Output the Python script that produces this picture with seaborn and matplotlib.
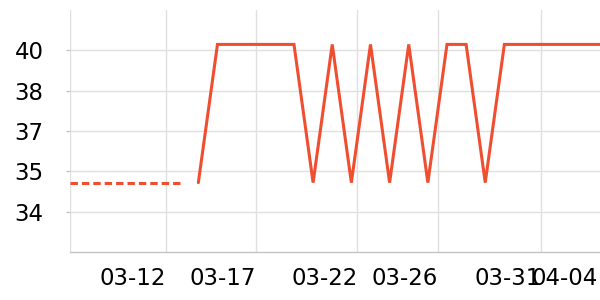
import matplotlib
matplotlib.use("Agg")
import matplotlib.pyplot as plt
import seaborn as sns
import pandas as pd

# ---- data ----
solid_x = list(range(22))
solid_y = [35.08, 40.22, 40.22, 40.22, 40.22, 40.22, 35.08, 40.22, 35.08, 40.22,
           35.08, 40.22, 35.08, 40.22, 40.22, 35.08, 40.22, 40.22, 40.22, 40.22,
           40.22, 40.22]
dashed_x = [-6.7, -0.95]
dashed_y = [35.08, 35.08]

x_tick_pos = [-6.71, -1.715, 2.99, 8.32, 12.51, 17.89]
x_tick_labels = ["", "03-12", "03-17", "03-22", "03-26", "03-31"]
last_label = "04-04"
last_label_pos = 20.9

y_tick_pos = [34, 35.5, 37, 38.5, 40]
y_tick_labels = ["34", "35", "37", "38", "40"]

line_color = "#f04e30"
grid_color = "#e0e0e0"
axis_color = "#c4c4c4"

sns.set_theme(style="white")
plt.rcParams["font.family"] = ["DejaVu Sans"]

fig = plt.figure(figsize=(6, 3), dpi=100)
ax = fig.add_axes([70 / 600, 48 / 300, 530 / 600, 242 / 300])

df_solid = pd.DataFrame({"x": solid_x, "y": solid_y})
df_dash = pd.DataFrame({"x": dashed_x, "y": dashed_y})

sns.lineplot(data=df_solid, x="x", y="y", ax=ax, color=line_color, lw=2.2,
             solid_joinstyle="miter", clip_on=False)
sns.lineplot(data=df_dash, x="x", y="y", ax=ax, color=line_color, lw=2.2,
             linestyle=(0, (2.42, 1.31)), dash_capstyle="butt")

ax.set_xlim(-6.71, 21.0)
ax.set_ylim(32.5, 41.5)

ax.set_xticks(x_tick_pos)
ax.set_xticklabels(x_tick_labels, ha="right")
ax.set_yticks(y_tick_pos)
ax.set_yticklabels(y_tick_labels)

ax.grid(True, color=grid_color, lw=1)
ax.set_axisbelow(True)
for s in ["top", "right", "left"]:
    ax.spines[s].set_visible(False)
ax.spines["bottom"].set_color(axis_color)
ax.spines["bottom"].set_linewidth(1)

fs = 16.5
ax.tick_params(axis="x", length=0, pad=10.5, labelsize=fs, labelcolor="black")
ax.tick_params(axis="y", length=3, width=1, color=axis_color, pad=16,
               labelsize=fs, labelcolor="black", left=True)

# last label sits at the right edge, aligned with the other tick labels
ax.annotate(last_label, xy=(last_label_pos, 0), xycoords=ax.get_xaxis_transform(),
            xytext=(0, -10.5), textcoords="offset points",
            ha="right", va="top", fontsize=fs, color="black", annotation_clip=False)

ax.set_xlabel("")
ax.set_ylabel("")

fig.savefig("out.png", dpi=100)
